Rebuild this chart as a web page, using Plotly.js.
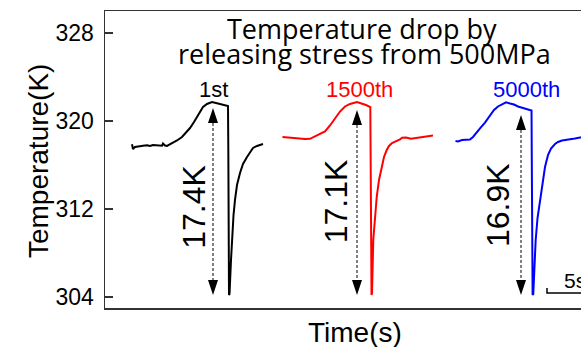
<!DOCTYPE html>
<html>
<head>
<meta charset="utf-8">
<script src="https://cdn.plot.ly/plotly-3.0.1.min.js"></script>
<style>
html,body{margin:0;padding:0;background:#fff;overflow:hidden;}
#chart{width:581px;height:347px;}
</style>
</head>
<body>
<div id="chart"></div>
<script>
// ---- data (time in s, temperature in K) ----
var blackT = [3.25,3.375,3.625,3.875,4.25,4.625,5.125,5.5,5.875,6.375,6.75,7.0,7.125,7.375,7.625,8.0,8.375,8.875,9.5,10.0,10.5,11.0,11.375,11.75,12.125,12.625,13.25,13.75,14.25,14.75,15.25,15.29,15.33,15.375,15.44,15.625,15.75,15.94,16.125,16.375,16.75,17.125,17.625,18.0,18.375,18.875,19.25,19.625];
var blackK = [317.88,317.45,317.64,317.68,317.73,317.75,317.79,317.73,317.82,317.77,317.77,317.75,317.95,317.77,317.73,317.86,318.0,318.23,318.55,318.91,319.36,319.91,320.36,320.77,321.27,321.55,321.73,321.64,321.55,321.45,321.36,317.36,310.09,304.18,304.27,307.36,309.45,311.45,312.82,314.18,315.27,316.09,316.73,317.18,317.55,317.73,317.82,317.91];

var redT = [22.06,22.75,23.625,24.25,24.875,25.5,26.125,26.75,27.375,28.0,28.625,29.25,29.875,30.5,31.375,32.0,32.5,33.04,33.075,33.125,33.19,33.25,33.41,33.625,33.84,34.125,34.46,34.75,35.09,35.375,35.75,36.25,36.75,37.0,37.5,38.125,38.75,39.375,40.125,40.875];
var redK = [318.55,318.5,318.43,318.38,318.36,318.38,318.59,318.77,319.05,319.59,320.27,320.86,321.32,321.55,321.73,321.59,321.45,321.27,316.45,309.18,304.18,304.36,309.18,311.45,313.09,314.64,315.82,316.73,317.36,317.73,318.0,318.14,318.32,318.47,318.5,318.38,318.45,318.5,318.59,318.68];

var blueT = [43.69,44.0,44.5,45.0,45.5,45.875,46.25,46.75,47.375,48.0,48.5,49.0,49.5,50.0,50.5,51.0,51.5,52.0,52.5,53.19,53.225,53.275,53.325,53.41,53.56,53.71,53.94,54.25,54.56,54.875,55.25,55.625,56.125,56.5,57.0,57.5,58.0,58.625,59.25,60.0];
var blueK = [318.18,318.14,318.27,318.27,318.32,318.55,318.91,319.32,319.86,320.5,321.0,321.32,321.55,321.7,321.59,321.5,321.32,321.23,321.09,320.95,316.45,309.18,304.18,304.27,307.36,309.18,311.18,312.82,314.55,315.82,316.91,317.5,317.91,318.09,318.23,318.27,318.32,318.41,318.5,318.55];

var cycleLabels = ['1st','1500th','5000th'];
var dropLabels = ['17.4K','17.1K','16.9K'];
var arrowT = [13.375, 31.375, 51.875];
var arrowTop = [321.18, 321.0, 320.55];
var arrowBottom = [304.18, 304.18, 304.18];
var yTicks = [304, 312, 320, 328];
var scaleBarStart = 55.125;
var scaleBarLen = 5;

// ---- styling ----
var AR = 'Liberation Sans, Arial, sans-serif';
var colors = ['#000000', '#ff0000', '#0000ff'];
var series = [[blackT, blackK], [redT, redK], [blueT, blueK]];
var pxT = 0.125;     // seconds per pixel
var pxK = 1 / 11;    // kelvin per pixel

var traces = [];
series.forEach(function (s, i) {
  traces.push({x: s[0], y: s[1], mode: 'lines', line: {color: colors[i], width: 2}, hoverinfo: 'skip'});
});
var shapes = [];
arrowT.forEach(function (t, i) {
  var headL = 15 * pxK, headW = 5 * pxT;
  traces.push({x: [t, t], y: [arrowTop[i] - headL, arrowBottom[i] + headL], mode: 'lines',
    line: {color: '#000', width: 1, dash: '3px,2px'}, hoverinfo: 'skip'});
  shapes.push({type: 'path', xref: 'x', yref: 'y', fillcolor: '#000', line: {width: 0},
    path: 'M' + t + ',' + arrowTop[i] + ' L' + (t - headW) + ',' + (arrowTop[i] - headL) + ' L' + (t + headW) + ',' + (arrowTop[i] - headL) + ' Z'});
  shapes.push({type: 'path', xref: 'x', yref: 'y', fillcolor: '#000', line: {width: 0},
    path: 'M' + t + ',' + arrowBottom[i] + ' L' + (t - headW) + ',' + (arrowBottom[i] + headL) + ' L' + (t + headW) + ',' + (arrowBottom[i] + headL) + ' Z'});
});
// scale bar
traces.push({x: [scaleBarStart, scaleBarStart, scaleBarStart + scaleBarLen], y: [304.36 + 5 * pxK, 304.36, 304.36],
  mode: 'lines', line: {color: '#000', width: 1.5}, hoverinfo: 'skip'});

var cycleLabelPos = [[13.375, 322.9], [31.625, 322.9], [52.6, 322.9]];
var dropLabelPos = [[11.0, 312.2], [28.75, 312.7], [49.0, 312.36]];
var annotations = [];
cycleLabels.forEach(function (lab, i) {
  annotations.push({x: cycleLabelPos[i][0], y: cycleLabelPos[i][1], xref: 'x', yref: 'y', text: lab, showarrow: false,
    xanchor: 'center', yanchor: 'middle', font: {family: AR, size: 22, color: colors[i]}});
  annotations.push({x: dropLabelPos[i][0], y: dropLabelPos[i][1], xref: 'x', yref: 'y', text: dropLabels[i], showarrow: false,
    textangle: -90, xanchor: 'center', yanchor: 'middle', font: {family: AR, size: 32, color: '#000'}});
});
annotations.push({x: 32.0, y: 328.45, xref: 'x', yref: 'y', text: 'Temperature drop by', showarrow: false,
  xanchor: 'center', yanchor: 'middle', font: {family: 'Open Sans, sans-serif', size: 27, color: '#000'}});
annotations.push({x: 32.25, y: 326.1, xref: 'x', yref: 'y', text: 'releasing stress from 500MPa', showarrow: false,
  xanchor: 'center', yanchor: 'middle', font: {family: 'Open Sans, sans-serif', size: 27, color: '#000'}});
annotations.push({x: 57.0, y: 305.5, xref: 'x', yref: 'y', text: scaleBarLen + 's', showarrow: false,
  xanchor: 'left', yanchor: 'middle', font: {family: AR, size: 21, color: '#000'}});
annotations.push({x: -0.1408, y: 0.498, xref: 'paper', yref: 'paper', text: 'Temperature(K)', showarrow: false,
  textangle: -90, xanchor: 'center', yanchor: 'middle', font: {family: AR, size: 28, color: '#000'}});
annotations.push({x: 0.525, y: -0.083, xref: 'paper', yref: 'paper', text: 'Time(s)', showarrow: false,
  xanchor: 'center', yanchor: 'middle', font: {family: AR, size: 28, color: '#000'}});

var layout = {
  width: 581, height: 347,
  margin: {l: 105, r: 0, t: 11, b: 39, pad: 0},
  paper_bgcolor: '#fff', plot_bgcolor: '#fff',
  showlegend: false,
  xaxis: {range: [-0.125, 59.375], showline: true, mirror: true, linecolor: '#333', linewidth: 1.5,
    showgrid: false, zeroline: false, ticks: '', showticklabels: false, fixedrange: true},
  yaxis: {range: [303.0, 330.0], showline: true, mirror: false, linecolor: '#333', linewidth: 1.5,
    showgrid: false, zeroline: false, tickvals: yTicks, ticktext: yTicks.map(String),
    ticks: 'inside', ticklen: 8, tickwidth: 1.5, tickcolor: '#333', ticklabelstandoff: 5,
    tickfont: {family: AR, size: 23, color: '#000'}, fixedrange: true},
  shapes: shapes,
  annotations: annotations
};
Plotly.newPlot('chart', traces, layout, {displayModeBar: false, staticPlot: true});
</script>
</body>
</html>
